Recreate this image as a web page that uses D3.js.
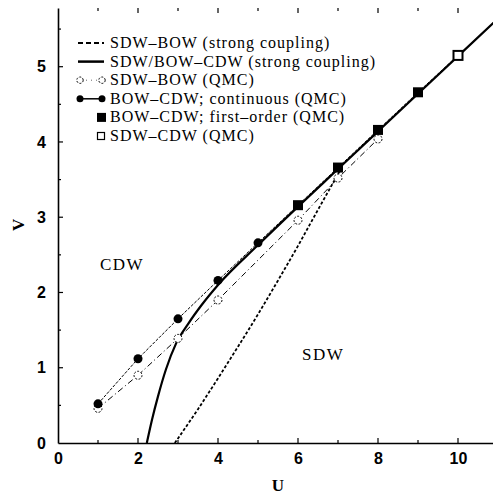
<!DOCTYPE html>
<html>
<head>
<meta charset="utf-8">
<script src="https://cdn.jsdelivr.net/npm/d3@7/dist/d3.min.js"></script>
<style>
  body { margin: 0; background: #fff; }
  svg { display: block; }
</style>
</head>
<body>
<div id="chart"></div>
<script>
const width = 493, height = 495;
const margin = { top: 8, right: -5, bottom: 52, left: 58 };

// QMC points
const qmcContU = [1, 2, 3, 4, 5];
const qmcContV = [0.52, 1.12, 1.65, 2.16, 2.66];
const qmcFirstU = [6, 7, 8, 9];
const qmcFirstV = [3.16, 3.66, 4.16, 4.66];
const qmcSdwCdwU = [10];
const qmcSdwCdwV = [5.15];
const qmcSdwBowU = [1, 2, 3, 4, 6, 7, 8];
const qmcSdwBowV = [0.46, 0.9, 1.39, 1.9, 2.96, 3.52, 4.04];

// strong coupling curves
const scSdwBowU = [2.92, 3.5, 4, 4.5, 5, 5.5, 6, 6.5, 7.05];
const scSdwBowV = [0, 0.45, 0.86, 1.28, 1.71, 2.16, 2.62, 3.1, 3.62];
const scCdwU = [2.22, 2.35, 2.5, 2.7, 2.95, 3.25, 3.6, 4, 5, 6, 7, 8, 9, 10, 11];
const scCdwV = [0, 0.31, 0.62, 0.98, 1.32, 1.58, 1.84, 2.1, 2.63, 3.14, 3.64, 4.14, 4.64, 5.14, 5.64];

const xTicks = [0, 2, 4, 6, 8, 10];
const yTicks = [0, 1, 2, 3, 4, 5];

const legendItems = [
  'SDW\u2013BOW (strong coupling)',
  'SDW/BOW\u2013CDW (strong coupling)',
  'SDW\u2013BOW  (QMC)',
  'BOW\u2013CDW; continuous (QMC)',
  'BOW\u2013CDW; first\u2013order (QMC)',
  'SDW\u2013CDW (QMC)'
];

const zip = (a, b) => a.map((d, i) => [d, b[i]]);

const svg = d3.select('#chart').append('svg').attr('width', width).attr('height', height);

const x = d3.scaleLinear().domain([0, 11]).range([margin.left, margin.left + 440]);
const y = d3.scaleLinear().domain([0, 5.78]).range([height - margin.bottom, margin.top]);

const line = d3.line().x(d => x(d[0])).y(d => y(d[1]));
const curve = d3.line().x(d => x(d[0])).y(d => y(d[1])).curve(d3.curveMonotoneX);

// axes
const bottomAxis = d3.axisBottom(x).tickValues(xTicks).tickSize(0).tickPadding(10).tickFormat(d3.format('d'));
const gx = svg.append('g').attr('transform', `translate(0,${y(0)})`).call(bottomAxis);
const leftAxis = d3.axisLeft(y).tickValues(yTicks).tickSize(0).tickPadding(12).tickFormat(d3.format('d'));
const gy = svg.append('g').attr('transform', `translate(${x(0)},0)`).call(leftAxis);

[gx, gy].forEach(g => {
  g.select('.domain').attr('stroke', '#000').attr('stroke-width', 1.6);
  g.selectAll('text')
    .attr('font-family', '"Liberation Sans", Arial, sans-serif')
    .attr('font-weight', 'bold')
    .attr('font-size', 16)
    .attr('fill', '#000');
});

// inward ticks
const ticks = svg.append('g').attr('stroke', '#000').attr('stroke-width', 1.2);
d3.range(1, 11).forEach(u => {
  const len = u % 2 === 0 ? 5 : 3;
  ticks.append('line').attr('x1', x(u)).attr('x2', x(u)).attr('y1', y(0)).attr('y2', y(0) - len);
  ticks.append('line').attr('x1', x(u)).attr('x2', x(u)).attr('y1', margin.top).attr('y2', margin.top + len);
});
d3.range(0.5, 5.6, 0.5).forEach(v => {
  const len = Number.isInteger(v) ? 5 : 3;
  ticks.append('line').attr('x1', x(0)).attr('x2', x(0) + len).attr('y1', y(v)).attr('y2', y(v));
});

// axis titles
svg.append('text')
  .attr('x', x(5.5)).attr('y', 491)
  .attr('text-anchor', 'middle')
  .attr('font-family', '"Liberation Serif", "Times New Roman", serif')
  .attr('font-weight', 'bold').attr('font-size', 17)
  .text('U');
svg.append('text')
  .attr('transform', `translate(24,${y(2.9)}) rotate(-90)`)
  .attr('text-anchor', 'middle')
  .attr('font-family', '"Liberation Serif", "Times New Roman", serif')
  .attr('font-weight', 'bold').attr('font-size', 17)
  .text('V');

// phase labels
const phaseFont = '"Liberation Serif", "Times New Roman", serif';
svg.append('text').attr('x', x(1.05)).attr('y', y(2.3)).attr('font-family', phaseFont)
  .attr('font-size', 17).attr('letter-spacing', 1.5).text('CDW');
svg.append('text').attr('x', x(6.1)).attr('y', y(1.1)).attr('font-family', phaseFont)
  .attr('font-size', 17).attr('letter-spacing', 1.5).text('SDW');

// lines
const plot = svg.append('g');
plot.append('path').datum(zip(scSdwBowU, scSdwBowV)).attr('d', curve)
  .attr('fill', 'none').attr('stroke', '#000').attr('stroke-width', 1.8).attr('stroke-dasharray', '3,2');
plot.append('path').datum(zip(scCdwU, scCdwV)).attr('d', curve)
  .attr('fill', 'none').attr('stroke', '#000').attr('stroke-width', 2.2);
plot.append('path').datum(zip(qmcSdwBowU, qmcSdwBowV)).attr('d', line)
  .attr('fill', 'none').attr('stroke', '#000').attr('stroke-width', 1).attr('stroke-dasharray', '6,3,1,3');
plot.append('path').datum(zip(qmcContU.concat(qmcFirstU, qmcSdwCdwU), qmcContV.concat(qmcFirstV, qmcSdwCdwV))).attr('d', line)
  .attr('fill', 'none').attr('stroke', '#000').attr('stroke-width', 1).attr('stroke-dasharray', '3,1.5');

// markers
plot.selectAll('circle.open').data(zip(qmcSdwBowU, qmcSdwBowV)).enter().append('circle')
  .attr('cx', d => x(d[0])).attr('cy', d => y(d[1])).attr('r', 4)
  .attr('fill', '#fff').attr('stroke', '#000').attr('stroke-width', 1).attr('stroke-dasharray', '2,1.5');
plot.selectAll('circle.fill').data(zip(qmcContU, qmcContV)).enter().append('circle')
  .attr('cx', d => x(d[0])).attr('cy', d => y(d[1])).attr('r', 4.5).attr('fill', '#000');
plot.selectAll('rect.fill').data(zip(qmcFirstU, qmcFirstV)).enter().append('rect')
  .attr('x', d => x(d[0]) - 5).attr('y', d => y(d[1]) - 5).attr('width', 10).attr('height', 10).attr('fill', '#000');
plot.selectAll('rect.open').data(zip(qmcSdwCdwU, qmcSdwCdwV)).enter().append('rect')
  .attr('x', d => x(d[0]) - 4.5).attr('y', d => y(d[1]) - 4.5).attr('width', 9).attr('height', 9)
  .attr('fill', '#fff').attr('stroke', '#000').attr('stroke-width', 2);

// legend
const legend = svg.append('g').attr('transform', 'translate(0,43)');
const rowH = 18.6;
legendItems.forEach((t, i) => {
  const g = legend.append('g').attr('transform', `translate(0,${i * rowH})`);
  g.append('text').attr('x', 110).attr('y', 5)
    .attr('font-family', '"Liberation Serif", "Times New Roman", serif')
    .attr('font-size', 16).attr('letter-spacing', 1).text(t);
  if (i === 0) g.append('line').attr('x1', 78).attr('x2', 104).attr('stroke', '#000').attr('stroke-width', 1.8).attr('stroke-dasharray', '5,3');
  if (i === 1) g.append('line').attr('x1', 78).attr('x2', 104).attr('stroke', '#000').attr('stroke-width', 2.5);
  if (i === 2) {
    g.append('line').attr('x1', 81).attr('x2', 101).attr('stroke', '#000').attr('stroke-width', 0.6).attr('stroke-dasharray', '1,4');
    [80, 102].forEach(cx => g.append('circle').attr('cx', cx).attr('r', 3.2).attr('fill', '#fff').attr('stroke', '#000').attr('stroke-dasharray', '2,1.5'));
  }
  if (i === 3) {
    g.append('line').attr('x1', 80).attr('x2', 102).attr('stroke', '#000').attr('stroke-width', 1.5);
    [80, 102].forEach(cx => g.append('circle').attr('cx', cx).attr('r', 3.5).attr('fill', '#000'));
  }
  if (i === 4) g.append('rect').attr('x', 97).attr('y', -4.5).attr('width', 9).attr('height', 9).attr('fill', '#000');
  if (i === 5) g.append('rect').attr('x', 97.5).attr('y', -3.5).attr('width', 7).attr('height', 7).attr('fill', '#fff').attr('stroke', '#000').attr('stroke-width', 1.2);
});
</script>
</body>
</html>
